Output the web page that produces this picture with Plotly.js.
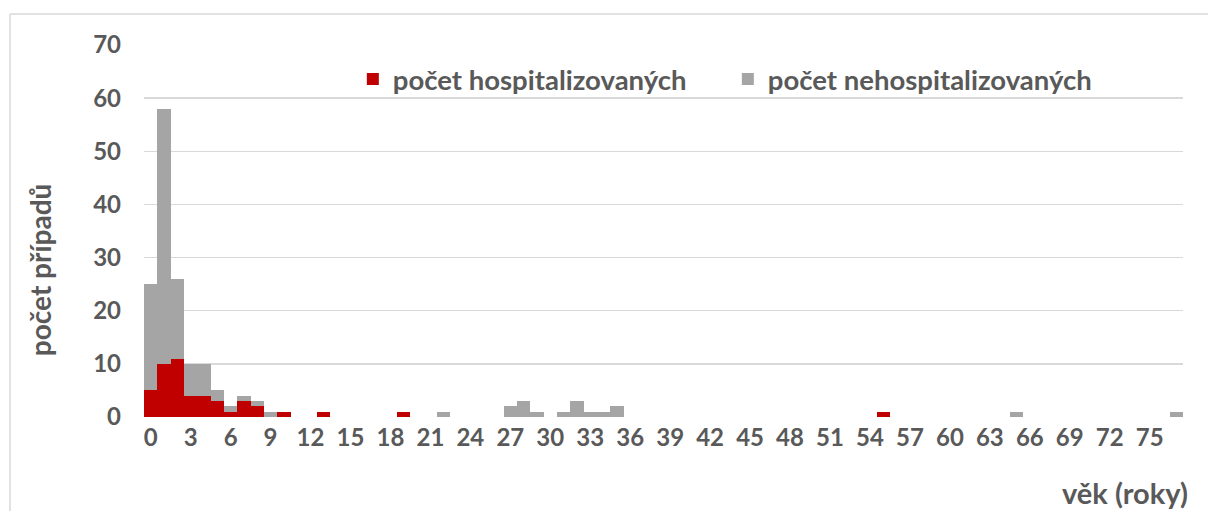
<!DOCTYPE html>
<html>
<head>
<meta charset="utf-8">
<script src="https://cdn.plot.ly/plotly-3.0.1.min.js"></script>
<style>html,body{margin:0;padding:0;background:#fff;}#chart{width:1208px;height:511px;}</style>
</head>
<body>
<div id="chart"></div>
<script>
// age categories (years)
const ages = [0,1,2,3,4,5,6,7,8,9,
  10,11,12,13,14,15,16,17,18,19,
  20,21,22,23,24,25,26,27,28,29,
  30,31,32,33,34,35,36,37,38,39,
  40,41,42,43,44,45,46,47,48,49,
  50,51,52,53,54,55,56,57,58,59,
  60,61,62,63,64,65,66,67,68,69,
  70,71,72,73,74,75,76,77];
// hospitalised cases
const hospitalized = [5,10,11,4,4,3,1,3,2,0,
  1,0,0,1,0,0,0,0,0,1,
  0,0,0,0,0,0,0,0,0,0,
  0,0,0,0,0,0,0,0,0,0,
  0,0,0,0,0,0,0,0,0,0,
  0,0,0,0,0,1,0,0,0,0,
  0,0,0,0,0,0,0,0,0,0,
  0,0,0,0,0,0,0,0];
// non-hospitalised cases
const notHospitalized = [20,48,15,6,6,2,1,1,1,1,
  0,0,0,0,0,0,0,0,0,0,
  0,0,1,0,0,0,0,2,3,1,
  0,1,3,1,1,2,0,0,0,0,
  0,0,0,0,0,0,0,0,0,0,
  0,0,0,0,0,0,0,0,0,0,
  0,0,0,0,0,1,0,0,0,0,
  0,0,0,0,0,0,0,1];
const seriesNames = ['počet hospitalizovaných','počet nehospitalizovaných'];
const xTickLabels = ['0','3','6','9','12','15','18','21','24','27','30','33','36','39','42','45','48','51','54','57','60','63','66','69','72','75'];
const xTickVals = [0,3,6,9,12,15,18,21,24,27,30,33,36,39,42,45,48,51,54,57,60,63,66,69,72,75];
const yTickVals = [0,10,20,30,40,50,60,70];
const xTitle = 'věk (roky)';
const yTitle = 'počet případů';

const FONT = 'Lato, "Open Sans", sans-serif';
const TXT = '#595959';

const traces = [
  {type:'bar', x:ages, y:hospitalized, name:seriesNames[0], marker:{color:'#C00000'}, width:1, hoverinfo:'x+y+name'},
  {type:'bar', x:ages, y:notHospitalized, name:seriesNames[1], marker:{color:'#A5A5A5'}, width:1, hoverinfo:'x+y+name'}
];

const layout = {
  width:1208, height:511,
  margin:{l:144, r:25, t:45, b:94, pad:0},
  paper_bgcolor:'#ffffff', plot_bgcolor:'#ffffff',
  barmode:'stack', bargap:0,
  font:{family:FONT, color:TXT, size:24, weight:'bold'},
  showlegend:true,
  legend:{orientation:'h', x:0.201, xanchor:'left', y:0.908, yanchor:'middle',
    traceorder:'normal', entrywidth:330, entrywidthmode:'pixels',
    font:{family:FONT, size:27.5, color:TXT, weight:'bold'}, bgcolor:'rgba(0,0,0,0)'},
  xaxis:{type:'linear', range:[-0.5,77.5], tickmode:'array', tickvals:xTickVals, ticktext:xTickLabels,
    showgrid:false, zeroline:false, showline:false, ticks:'', ticklabelstandoff:4,
    tickfont:{family:FONT, size:24, color:TXT, weight:'bold'}, fixedrange:true},
  yaxis:{range:[0,70], tickmode:'array', tickvals:yTickVals, showgrid:true, gridcolor:'#D9D9D9', gridwidth:1.3,
    zeroline:false, showline:false, ticks:'', ticklabelstandoff:22,
    tickfont:{family:FONT, size:24, color:TXT, weight:'bold'}, fixedrange:true},
  annotations:[
    {text:yTitle, xref:'paper', yref:'paper', x:-0.1, y:0.395, textangle:-90, showarrow:false,
      xanchor:'center', yanchor:'middle', font:{family:FONT, size:28, color:TXT, weight:'bold'}},
    {text:xTitle, xref:'paper', yref:'paper', x:1.0067, y:-0.204, showarrow:false,
      xanchor:'right', yanchor:'middle', font:{family:FONT, size:29, color:TXT, weight:'bold'}}
  ],
  shapes:[
    {type:'line', xref:'paper', yref:'paper', x0:-0.129, x1:1.03, y0:1.0833, y1:1.0833, line:{color:'#D9D9D9', width:1.5}},
    {type:'line', xref:'paper', yref:'paper', x0:-0.129, x1:-0.129, y0:1.0833, y1:-0.26, line:{color:'#D9D9D9', width:1.5}}
  ]
};

Plotly.newPlot('chart', traces, layout, {displayModeBar:false, staticPlot:true});
</script>
</body>
</html>
